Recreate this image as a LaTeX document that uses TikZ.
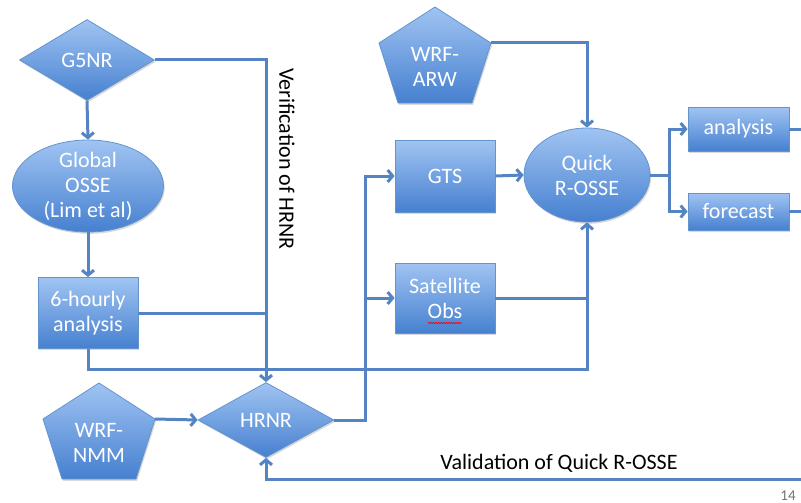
\documentclass[tikz,border=0pt]{standalone}
\usepackage{fontspec}
\setmainfont{Carlito}
\usetikzlibrary{shapes.geometric,arrows.meta,shadows,decorations.pathmorphing,calc}
\definecolor{ftop}{RGB}{160,196,242}
\definecolor{fbot}{RGB}{70,128,208}
\definecolor{edgec}{RGB}{100,148,206}
\definecolor{wirec}{RGB}{84,132,196}
\tikzset{
  shp/.style={draw=edgec, line width=0.8pt, top color=ftop, bottom color=fbot,
    drop shadow={shadow xshift=1.2pt,shadow yshift=-1.8pt,opacity=0.3}},
  txt/.style={text=white, font=\fontsize{22}{25}\selectfont, align=center, inner sep=0pt},
  boxn/.style={shp, txt, rectangle},
  dia/.style={shp, txt, diamond},
  ell/.style={shp, txt, ellipse},
  wire/.style={draw=wirec, line width=3pt},
  arr/.style={wire, -{Straight Barb[length=5pt,width=12pt]}},
  lbl/.style={font=\fontsize{22}{25}\selectfont, text=black, inner sep=0pt},
}
\newcommand\mypent[3]{%
  \path[shp] (#2,#3) -- (#2+56,#3+36) -- (#2+37,#3+96) -- (#2-37,#3+96) -- (#2-56,#3+36) -- cycle;
  \coordinate (#1-r) at (#2+56,#3+36);
}
\begin{document}
\begin{tikzpicture}[x=1pt,y=-1pt]
\useasboundingbox (0,0) rectangle (801,503);
% shapes
\node[dia, minimum width=135pt, minimum height=81pt] (g5nr) at (87,60) {G5NR};
\node[ell, minimum width=151pt, minimum height=92pt, inner ysep=-8pt] (gosse) at (88,186) {Global\\OSSE\\(Lim et al)};
\node[boxn, minimum width=100pt, minimum height=71pt] (sixh) at (88,313) {6-hourly\\analysis};
\node[dia, minimum width=136pt, minimum height=75pt] (hrnr) at (266,420) {HRNR};
\mypent{nmm}{99}{383}
\node[txt] (wrfnmm) at (99,443) {WRF-\\NMM};
\mypent{arw}{435}{7}
\node[txt] (wrfarw) at (435,67) {WRF-\\ARW};
\node[boxn, minimum width=100pt, minimum height=72pt] (gts) at (445,176) {GTS};
\node[boxn, minimum width=100pt, minimum height=70pt] (sat) at (445,298) {Satellite\\Obs};
\node[ell, minimum width=126pt, minimum height=94pt, inner ysep=-4pt] (qrosse) at (587,175) {Quick\\R-OSSE};
\node[boxn, minimum width=101pt, minimum height=44pt] (ana) at (738.5,129) {analysis};
\node[boxn, minimum width=101pt, minimum height=37pt] (fc) at (738.5,211.5) {forecast};
% labels
\node[lbl, rotate=-90] (ver) at (287,159) {Verification of HRNR};
\node[lbl] (val) at (559,463) {Validation of Quick R-OSSE};
\node[font=\fontsize{15}{17}\selectfont, text=black!55, inner sep=0pt] (pg) at (788,496) {14};
\draw[red, line width=0.6pt, decorate, decoration={snake, amplitude=0.7pt, segment length=2.5pt}] (428,323) -- (462,323);
% coordinates
\coordinate (low) at (0,369);
\coordinate (hx) at (365,0);
\coordinate (qx) at (669,0);
\coordinate (anaend) at (801,129);
\coordinate (fcend) at (801,211.5);
\coordinate (valend) at (801,479);
% connectors
\draw[arr] (g5nr.south) -- (gosse.north);
\draw[arr] (gosse.south) -- (sixh.north);
\draw[arr] (g5nr.east) -| (hrnr.north);
\draw[wire] (sixh.east) -- (sixh.east -| hrnr.north);
\draw[arr] (sixh.south) |- (low -| qrosse.south) -- (qrosse.south);
\draw[wire] (sat.east) -- (sat.east -| qrosse.south);
\draw[arr] (nmm-r) -- (hrnr.west);
\draw[arr] (hrnr.east) -| (hx |- gts.west) -- (gts.west);
\draw[arr] (hx |- sat.west) -- (sat.west);
\draw[arr] (arw-r) -| (qrosse.north);
\draw[arr] (gts.east) -- (qrosse.west);
\draw[arr] (qrosse.east) -- (qx |- qrosse.east) |- (ana.west);
\draw[arr] (qx |- qrosse.east) |- (fc.west);
\draw[wire] (ana.east) -- (anaend);
\draw[wire] (fc.east) -- (fcend);
\draw[arr] (valend) -| (hrnr.south);
\end{tikzpicture}
\end{document}
